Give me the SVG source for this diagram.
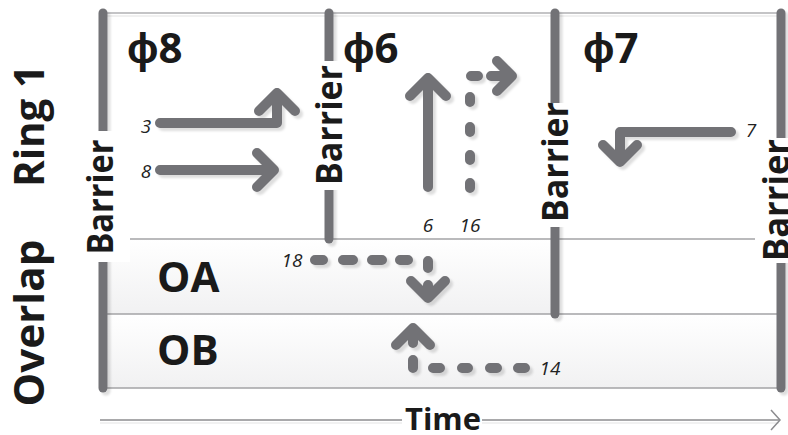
<svg xmlns="http://www.w3.org/2000/svg" width="788" height="435" viewBox="0 0 788 435">
<style>
.bar{stroke:#727276;stroke-width:9;stroke-linecap:round;fill:none}
.arr{stroke:#727276;stroke-width:10;stroke-linecap:round;stroke-linejoin:round;fill:none}
.lane{stroke:#a3a3a6;stroke-width:1.5;fill:none}
.big{font-family:"Open Sans","Liberation Sans",sans-serif;font-weight:bold;fill:#1a1a1a}
.num{font-family:"Open Sans","Liberation Sans",sans-serif;font-style:italic;font-size:19px;fill:#222;text-anchor:middle}
.lbl{fill:#ffffff}
</style>
<defs>
<linearGradient id="lg" x1="0" y1="0" x2="0" y2="1">
<stop offset="0" stop-color="#ffffff"/>
<stop offset="1" stop-color="#f1f1f2"/>
</linearGradient>
<filter id="sh" filterUnits="userSpaceOnUse" x="0" y="0" width="788" height="435">
<feDropShadow dx="3" dy="3" stdDeviation="1.2" flood-color="#000" flood-opacity="0.13"/>
</filter>
</defs>

<g id="lanes">
<rect x="103" y="239" width="452" height="75" fill="url(#lg)"/>
<rect x="103" y="314" width="678" height="74" fill="url(#lg)"/>
<line x1="103" y1="13" x2="781" y2="13" stroke="#c4c4c6" stroke-width="2"/>
<line x1="103" y1="16" x2="781" y2="16" stroke="#f0f0f0" stroke-width="2"/>
<line class="lane" x1="103" y1="239" x2="755" y2="239"/>
<line class="lane" x1="103" y1="314" x2="781" y2="314"/>
<line class="lane" x1="103" y1="388" x2="781" y2="388"/>
</g>

<g id="side-labels">
<text class="big" font-size="42" text-anchor="middle" textLength="122" lengthAdjust="spacingAndGlyphs" transform="translate(44,126) rotate(-90)">Ring 1</text>
<text class="big" font-size="42" text-anchor="middle" textLength="167" lengthAdjust="spacingAndGlyphs" transform="translate(44,323) rotate(-90)">Overlap</text>
</g>

<g id="barrier1">
<line class="bar" x1="103" y1="13" x2="103" y2="388" filter="url(#sh)"/>
<rect class="lbl" x="85" y="131" width="45" height="131"/>
<text class="big" font-size="35" text-anchor="middle" textLength="115" lengthAdjust="spacingAndGlyphs" transform="translate(113,197) rotate(-90)">Barrier</text>
</g>
<g id="barrier2">
<line class="bar" x1="329" y1="13" x2="329" y2="239" filter="url(#sh)"/>
<rect class="lbl" x="312" y="61" width="35" height="129"/>
<text class="big" font-size="35" text-anchor="middle" textLength="120" lengthAdjust="spacingAndGlyphs" transform="translate(342,125) rotate(-90)">Barrier</text>
</g>
<g id="barrier3">
<line class="bar" x1="555" y1="13" x2="555" y2="314" filter="url(#sh)"/>
<rect class="lbl" x="539" y="103" width="34" height="124"/>
<text class="big" font-size="35" text-anchor="middle" textLength="120" lengthAdjust="spacingAndGlyphs" transform="translate(568,162) rotate(-90)">Barrier</text>
</g>
<g id="barrier4">
<line class="bar" x1="781" y1="13" x2="781" y2="388" filter="url(#sh)"/>
<rect class="lbl" x="755" y="138" width="33" height="125"/>
<text class="big" font-size="35" text-anchor="middle" textLength="122" lengthAdjust="spacingAndGlyphs" transform="translate(789,200) rotate(-90)">Barrier</text>
</g>

<g id="phase8"><text class="big" font-size="42" x="127" y="63">ϕ8</text></g>
<g id="phase6"><text class="big" font-size="42" x="343" y="63">ϕ6</text></g>
<g id="phase7"><text class="big" font-size="42" x="583" y="63">ϕ7</text></g>
<g id="OA"><text class="big" font-size="42" x="157" y="292">OA</text></g>
<g id="OB"><text class="big" font-size="42" x="157" y="365">OB</text></g>

<g id="connectors" filter="url(#sh)">
<path class="arr" d="M160,123 H277 V93 M259,111 L277,93 L295,111"/>
<path class="arr" d="M160,170 H274 M257,153 L274,170 L257,187"/>
<path class="arr" d="M428,187 V78 M410,96 L428,78 L446,96"/>
<path class="arr" d="M470,97 V102 M470,127 V132 M470,155 V160 M470,183 V188 M471,76 H478 M491,76 H512 M497,61 L512,76 L497,91"/>
<path class="arr" d="M731,132 H620 V162 M603,145 L620,162 L637,145"/>
<path class="arr" d="M315,260 H323 M343,260 H353 M372,260 H382 M400,260 H408 M428,261 V268 M428,285 V298 M411,281 L428,298 L445,281"/>
<path class="arr" d="M525,368 H518 M497,368 H490 M468,368 H462 M440,368 H433 M413,368 V360 M413,343 V328 M396,345 L413,328 L430,345"/>
</g>

<g id="numbers">
<text class="num" x="146" y="133">3</text>
<text class="num" x="146" y="178">8</text>
<text class="num" x="428" y="232">6</text>
<text class="num" x="470" y="232">16</text>
<text class="num" x="751" y="137">7</text>
<text class="num" x="292" y="267">18</text>
<text class="num" x="550" y="375">14</text>
</g>

<g id="time-axis">
<line x1="100" y1="420" x2="402" y2="420" stroke="#8c8c8f" stroke-width="1.5"/>
<line x1="482" y1="420" x2="779" y2="420" stroke="#8c8c8f" stroke-width="1.5"/>
<line x1="100" y1="423" x2="402" y2="423" stroke="#ececec" stroke-width="1.5"/>
<line x1="482" y1="423" x2="779" y2="423" stroke="#ececec" stroke-width="1.5"/>
<polyline points="771,410 780,420 771,430" fill="none" stroke="#8c8c8f" stroke-width="1.5"/>
<text class="big" font-size="31" x="405" y="430" textLength="76" lengthAdjust="spacingAndGlyphs">Time</text>
</g>
</svg>
